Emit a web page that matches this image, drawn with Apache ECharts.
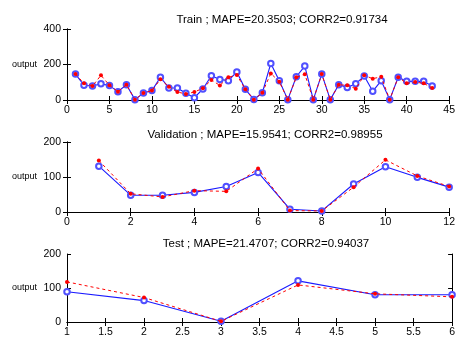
<!DOCTYPE html>
<html><head><meta charset="utf-8">
<script src="https://cdn.jsdelivr.net/npm/echarts@6/dist/echarts.min.js"></script>
<style>html,body{margin:0;padding:0;background:#fff}#c{width:458px;height:338px}</style>
</head><body><div id="c"></div>
<script>
const trainX = [1,2,3,4,5,6,7,8,9,10,11,12,13,14,15,16,17,18,19,20,21,22,23,24,25,26,27,28,29,30,31,32,33,34,35,36,37,38,39,40,41,42,43];
const trainTarget = [146,94,79,139,83,47,86,2,39,53,117,75,45,34,45,66,113,82,128,141,60,2,41,150,103,2,128,145,2,146,2,86,83,64,139,120,131,2,128,94,101,94,68];
const trainOutput = [146,83,79,92,81,47,86,2,39,53,128,68,68,38,13,62,137,116,109,158,60,3,41,206,109,2,131,191,2,146,2,86,71,92,135,49,109,2,128,105,105,105,79];

const valX = [1,2,3,4,5,6,7,8,9,10,11,12];
const valTarget = [147,52,43,61,59,124,4,3,71,149,103,73];
const valOutput = [131,48,48,56,73,113,8,3,80,129,99,71];

const testX = [1,2,3,4,5,6];
const testTarget = [118,72,2,109,83,74];
const testOutput = [89,63,2,121,80,80];

const titles = [
  'Train ; MAPE=20.3503; CORR2=0.91734',
  'Validation ; MAPE=15.9541; CORR2=0.98955',
  'Test ; MAPE=21.4707; CORR2=0.94037'
];
const yName = 'output';

const panels = [
  {x: trainX, t: trainTarget, o: trainOutput, xmin: 0, xmax: 45, xint: 5, ymin: 0, ymax: 400, yint: 200, top: 29, h: 71, titleTop: 9, titleX: 277},
  {x: valX, t: valTarget, o: valOutput, xmin: 0, xmax: 12, xint: 2, ymin: 0, ymax: 200, yint: 100, top: 142, h: 70, titleTop: 124, titleX: 260},
  {x: testX, t: testTarget, o: testOutput, xmin: 1, xmax: 6, xint: 0.5, ymin: 0, ymax: 200, yint: 100, top: 254, h: 71, titleTop: 233, titleX: 261}
];

const font = 'Liberation Sans, Arial, sans-serif';
const grids = [], xAxes = [], yAxes = [], series = [], titleArr = [];
panels.forEach((p, i) => {
  grids.push({left: 67, top: p.top, width: 386, height: p.h});
  titleArr.push({text: titles[i], left: p.titleX, top: p.titleTop, textAlign: 'center',
    textStyle: {fontFamily: font, fontSize: 11.5, fontWeight: 'normal', color: '#000'}});
  const axLine = {show: true, lineStyle: {color: '#000', width: 1}};
  const tick = {show: true, inside: true, length: 4, lineStyle: {color: '#000'}};
  xAxes.push({type: 'value', gridIndex: i, min: p.xmin, max: p.xmax, interval: p.xint,
    axisLine: axLine, axisTick: tick, splitLine: {show: false},
    axisLabel: {fontFamily: font, fontSize: 10.5, color: '#000', margin: 5}});
  xAxes.push({type: 'value', gridIndex: i, position: 'top', min: p.xmin, max: p.xmax, interval: p.xint,
    axisLine: axLine, axisTick: tick, splitLine: {show: false}, axisLabel: {show: false}});
  yAxes.push({type: 'value', gridIndex: i, min: p.ymin, max: p.ymax, interval: p.yint,
    axisLine: axLine, axisTick: tick, splitLine: {show: false},
    axisLabel: {fontFamily: font, fontSize: 10.5, color: '#000', margin: 6},
    name: yName, nameLocation: 'middle', nameRotate: 0, nameGap: 30,
    nameTextStyle: {fontFamily: font, fontSize: 9, color: '#000', align: 'right', verticalAlign: 'middle'}});
  yAxes.push({type: 'value', gridIndex: i, position: 'right', min: p.ymin, max: p.ymax, interval: p.yint,
    axisLine: axLine, axisTick: tick, splitLine: {show: false}, axisLabel: {show: false}});
  series.push({type: 'line', xAxisIndex: 2*i, yAxisIndex: 2*i,
    data: p.x.map((v, k) => [v, p.o[k]]),
    symbol: 'emptyCircle', symbolSize: 5.5, showSymbol: true, showAllSymbol: true,
    lineStyle: {color: '#1a1aff', width: 1.1},
    itemStyle: {color: '#5050ff', borderWidth: 1},
    z: 2, animation: false});
  series.push({type: 'line', xAxisIndex: 2*i, yAxisIndex: 2*i,
    data: p.x.map((v, k) => [v, p.t[k]]),
    symbol: 'circle', symbolSize: 4, showSymbol: true, showAllSymbol: true,
    lineStyle: {color: '#ff0000', width: 1, type: [3, 3]},
    itemStyle: {color: '#ff0000'},
    z: 3, animation: false});
});

const chart = echarts.init(document.getElementById('c'), null, {renderer: 'canvas'});
chart.setOption({
  animation: false,
  backgroundColor: '#fff',
  title: titleArr,
  grid: grids,
  xAxis: xAxes,
  yAxis: yAxes,
  series: series
});
</script>
</body></html>
